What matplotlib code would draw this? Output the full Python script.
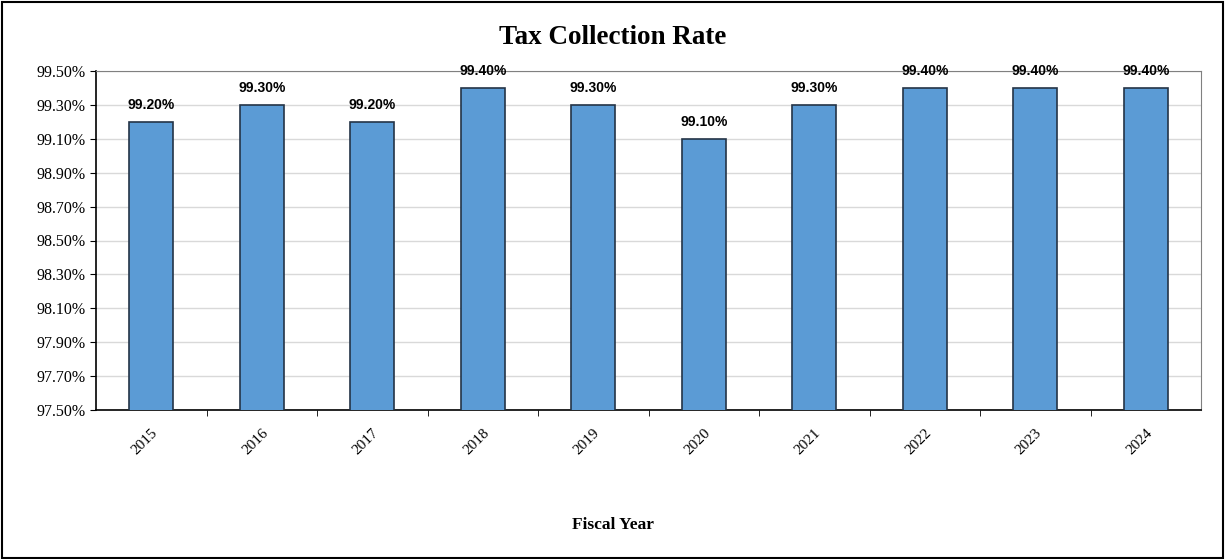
import numpy as np
from matplotlib import pyplot as plt
from matplotlib.ticker import FuncFormatter

years = ["2015", "2016", "2017", "2018", "2019", "2020", "2021", "2022", "2023", "2024"]
rates = [99.20, 99.30, 99.20, 99.40, 99.30, 99.10, 99.30, 99.40, 99.40, 99.40]
y_ticks = [97.5, 97.7, 97.9, 98.1, 98.3, 98.5, 98.7, 98.9, 99.1, 99.3, 99.5]

fig = plt.figure(figsize=(12.25, 5.59), dpi=100)
ax = fig.add_axes([96 / 1225, 1 - 410 / 559, 1105 / 1225, 339 / 559])

x = np.arange(len(years))
ax.bar(x, rates, width=0.4, color="#5B9BD5", edgecolor="#243447", linewidth=1.2, zorder=3)

for xi, r in zip(x, rates):
    ax.annotate(f"{r:.2f}%", (xi, r), xytext=(0, 7), textcoords="offset points",
                ha="center", va="bottom", fontsize=10, fontweight="bold",
                family="Liberation Sans", clip_on=False)

ax.set_xlim(-0.5, len(years) - 0.5)
ax.set_ylim(97.5, 99.5)
ax.set_yticks(y_ticks)
ax.yaxis.set_major_formatter(FuncFormatter(lambda v, p: f"{v:.2f}%"))
ax.grid(axis="y", color="#d9d9d9", linewidth=1, zorder=0)

ax.set_xticks(x)
ax.set_xticklabels(years, rotation=45, ha="right", rotation_mode="anchor",
                   family="Liberation Serif", fontsize=11)
ax.set_xticks(x[:-1] + 0.5, minor=True)
ax.tick_params(axis="x", which="major", length=0, pad=12)
ax.tick_params(axis="x", which="minor", length=4, color="black")
ax.tick_params(axis="y", length=4, color="black")
for lab in ax.get_yticklabels():
    lab.set_family("Liberation Serif")
    lab.set_fontsize(11.5)

ax.spines["left"].set_color("black")
ax.spines["bottom"].set_color("black")
ax.spines["left"].set_linewidth(1.2)
ax.spines["bottom"].set_linewidth(1.2)
ax.spines["top"].set_color("#808080")
ax.spines["right"].set_color("#808080")

fig.text(0.5, 1 - 38 / 559, "Tax Collection Rate", ha="center", va="center",
         fontsize=19.5, fontweight="bold", family="Liberation Serif")
fig.text(0.5, 1 - 525 / 559, "Fiscal Year", ha="center", va="center",
         fontsize=12.5, fontweight="bold", family="Liberation Serif")

fig.patches.append(plt.Rectangle((0.002, 0.002), 0.996, 0.994, transform=fig.transFigure,
                                 fill=False, edgecolor="black", linewidth=1.5))

fig.savefig("out.png", dpi=100)
